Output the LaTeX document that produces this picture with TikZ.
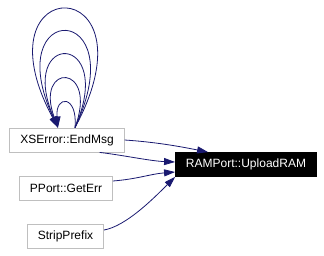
\documentclass[tikz,border=0pt]{standalone}
\usepackage{fontspec}
\setmainfont{Liberation Sans}
\usetikzlibrary{arrows.meta}
\definecolor{edge}{RGB}{25,25,112}
\definecolor{frame}{RGB}{191,191,191}
\tikzset{
  fn/.style={draw=frame,fill=white,line width=0.8pt,inner xsep=10.5pt,
    minimum height=24pt,font=\fontsize{12}{14}\selectfont},
  fnhi/.style={fn,draw=black,fill=black,text=white},
  call/.style={-{Triangle[length=11pt,width=7pt]},edge,line width=0.8pt},
}

\begin{document}
\begin{tikzpicture}[x=1pt,y=-1pt]
\useasboundingbox (0,0) rectangle (324,255);
% callers on the left, callee on the right
\node[fn] (endmsg) at (67,140) {XSError::EndMsg};
\node[fn] (geterr) at (66,188.5) {PPort::GetErr};
\node[fn] (strip) at (65.5,236.5) {StripPrefix};
\node[fnhi] (upload) at (246,164.5) {RAMPort::UploadRAM};
% recursive calls of EndMsg
\foreach \h/\d in {-158/85,-128/60,-97/42,-65/24,-33/3}
  \draw[call] ([xshift=8pt]endmsg.north) .. controls +(\d,\h) and +(-\d,\h)
    .. ([xshift=-9pt]endmsg.north);
% calls into UploadRAM
\draw[call] (endmsg.east) .. controls +(30,2) and +(-30,-6)
  .. ([xshift=33pt]upload.north west);
\draw[call] ([xshift=-25pt]endmsg.south east) .. controls +(25,3) and +(-25,-1)
  .. ([yshift=2.5pt]upload.west);
\draw[call] ([yshift=7.5pt]geterr.east) .. controls +(25,-2) and +(-25,2)
  .. ([yshift=-7.5pt]upload.west);
\draw[call] ([yshift=6.5pt]strip.east) .. controls +(22,-4) and +(-22,22)
  .. (upload.south west);
\end{tikzpicture}
\end{document}
